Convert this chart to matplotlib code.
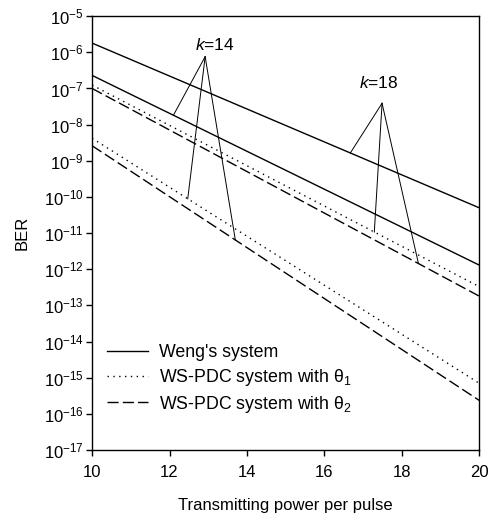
import numpy as np
import matplotlib
matplotlib.use('Agg')
import matplotlib.pyplot as plt

plt.rcParams['font.family'] = ['Liberation Sans', 'DejaVu Sans']
plt.rcParams['mathtext.fontset'] = 'custom'
plt.rcParams['mathtext.rm'] = 'Liberation Sans'
plt.rcParams['mathtext.it'] = 'Liberation Sans:italic'
plt.rcParams['axes.unicode_minus'] = False
plt.rcParams['font.size'] = 12

# data (BER at P=10 and P=20, straight lines on log scale)
power = [10, 20]
weng_k18 = [1.8e-6, 5.0e-11]
weng_k14 = [2.3e-7, 1.3e-12]
pdc1_k18 = [1.24e-7, 3.3e-13]
pdc2_k18 = [1.0e-7, 1.8e-13]
pdc1_k14 = [4.2e-9, 7.0e-16]
pdc2_k14 = [2.6e-9, 2.35e-16]

# annotation: label position, apex, and x of each target on its line
k14_text = (13.18, 10**-5.80)
k14_apex = (12.92, 10**-6.12)
k14_targets = [(12.10, weng_k14), (12.47, pdc1_k14), (13.70, pdc2_k14)]
k18_text = (17.39, 10**-6.85)
k18_apex = (17.49, 10**-7.41)
k18_targets = [(16.67, weng_k18), (17.29, pdc1_k18), (18.43, pdc2_k18)]


def on_line(x, ys):
    # log-linear interpolation along a line
    ly = np.interp(x, power, np.log10(ys))
    return 10**ly


fig = plt.figure(figsize=(4.9, 5.22), dpi=100)
ax = fig.add_axes([0.188, 0.138, 0.790, 0.831])

lw = 1.0
l1, = ax.semilogy(power, weng_k18, 'k-', lw=lw, label="Weng's system")
ax.semilogy(power, weng_k14, 'k-', lw=lw)
l2, = ax.semilogy(power, pdc1_k18, 'k', ls=(0, (1, 3.2)), lw=lw,
                  label=r'WS-PDC system with $\mathregular{\theta_1}$')
ax.semilogy(power, pdc1_k14, 'k', ls=(0, (1, 3.2)), lw=lw)
l3, = ax.semilogy(power, pdc2_k18, 'k', ls=(0, (8, 3)), lw=lw,
                  label=r'WS-PDC system with $\mathregular{\theta_2}$')
ax.semilogy(power, pdc2_k14, 'k', ls=(0, (8, 3)), lw=lw)

for txt, pos, apex, targets in [('14', k14_text, k14_apex, k14_targets),
                                ('18', k18_text, k18_apex, k18_targets)]:
    ax.text(pos[0], pos[1], r'$k$=' + txt, ha='center', va='center', fontsize=12.5)
    for tx, line in targets:
        ax.plot([apex[0], tx], [apex[1], on_line(tx, line)], 'k-', lw=0.7)

ax.set_xlim(10, 20)
ax.set_ylim(1e-17, 1e-5)
ax.set_xticks([10, 12, 14, 16, 18, 20])
ax.set_yticks([10.0**e for e in range(-17, -4)])
ax.yaxis.set_minor_locator(matplotlib.ticker.NullLocator())
ax.tick_params(direction='out', length=4, width=1, labelsize=12)
ax.tick_params(axis='x', pad=7)
ax.tick_params(axis='y', pad=2)
for s in ax.spines.values():
    s.set_linewidth(1)

ax.set_xlabel('Transmitting power per pulse', fontsize=12, labelpad=13)
ax.set_ylabel('BER', fontsize=12, labelpad=10)

ax.legend(handles=[l1, l2, l3], loc='lower left', bbox_to_anchor=(0.021, 0.065),
          borderaxespad=0, frameon=False, fontsize=12.8, handlelength=2.3,
          handletextpad=0.62, labelspacing=0.33)

fig.savefig('out.png', dpi=100)
